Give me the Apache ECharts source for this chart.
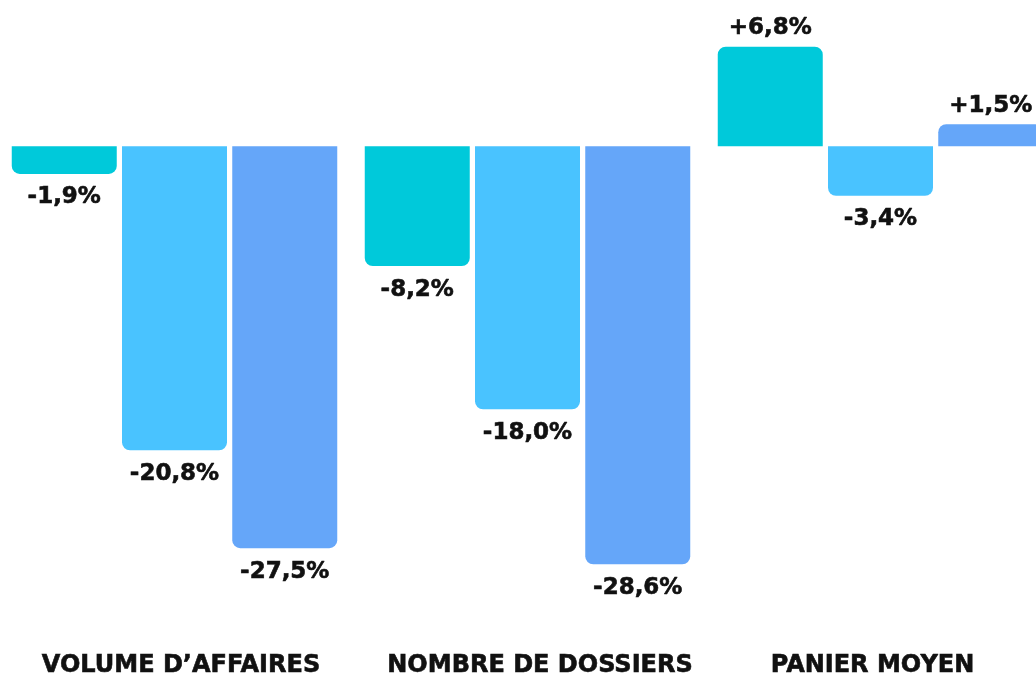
<!DOCTYPE html>
<html>
<head>
<meta charset="utf-8">
<title>Evolution</title>
<script src="https://cdn.jsdelivr.net/npm/echarts@6/dist/echarts.min.js"></script>
<style>
  html, body { margin: 0; padding: 0; background: #fff; overflow: hidden; width: 1036px; height: 678px; }
  /* le graphique deborde un peu a droite, comme l'original */
  #chart { position: absolute; left: -2px; top: 0; width: 1059px; height: 678px; }
</style>
</head>
<body>
<div id="chart"></div>
<script>
// categories + series values (en %)
var categories = ['VOLUME D\u2019AFFAIRES', 'NOMBRE DE DOSSIERS', 'PANIER MOYEN'];
var serie1 = [-1.9, -8.2, 6.8];
var serie2 = [-20.8, -18.0, -3.4];
var serie3 = [-27.5, -28.6, 1.5];
var colors = ['#00C9DA', '#49C3FF', '#65A6F9'];

var myChart = echarts.init(document.getElementById('chart'));

function fmt(v) {
    var s = Math.abs(v).toFixed(1).replace('.', ',');
    return (v > 0 ? '+' : '-') + s + '%';
}

// coins arrondis cote extremite de la barre
function items(arr) {
    return arr.map(function (v) {
        return {
            value: v,
            itemStyle: { borderRadius: v >= 0 ? [8, 8, 0, 0] : [0, 0, 8, 8] },
            label: { position: v >= 0 ? 'top' : 'bottom', distance: v >= 0 ? 7 : 12 }
        };
    });
}

function serie(name, arr, idx) {
    return {
        name: name,
        type: 'bar',
        barWidth: 105,
        barGap: '5%',
        data: items(arr),
        itemStyle: { color: colors[idx] },
        label: {
            show: true,
            formatter: function (p) { return fmt(p.value); },
            fontFamily: 'DejaVu Sans',
            fontWeight: 'bold',
            fontSize: 23,
            color: '#111',
            textBorderColor: '#111',
            textBorderWidth: 0.6
        }
    };
}

var labelStyle = {
    fontFamily: 'DejaVu Sans',
    fontWeight: 'bold',
    fontSize: 24,
    color: '#111',
    textBorderColor: '#111',
    textBorderWidth: 0.6
};

var option = {
    animation: false,
    grid: { left: 0, right: 0, top: 0, bottom: 92, containLabel: false },
    xAxis: {
        type: 'category',
        data: categories,
        axisLine: { show: false },
        axisTick: { show: false },
        axisLabel: {
            interval: 0,
            margin: 69,
            formatter: function (v, i) { return '{c' + i + '|' + v + '}'; },
            rich: {
                c0: Object.assign({ padding: [0, 0, 0, 13] }, labelStyle),
                c1: Object.assign({ padding: [0, 0, 0, 25] }, labelStyle),
                c2: Object.assign({ padding: [0, 16, 0, 0] }, labelStyle)
            }
        }
    },
    yAxis: {
        type: 'value',
        min: -30,
        max: 10,
        show: false,
        splitLine: { show: false }
    },
    series: [
        serie('s1', serie1, 0),
        serie('s2', serie2, 1),
        serie('s3', serie3, 2)
    ]
};
myChart.setOption(option);
</script>
</body>
</html>
